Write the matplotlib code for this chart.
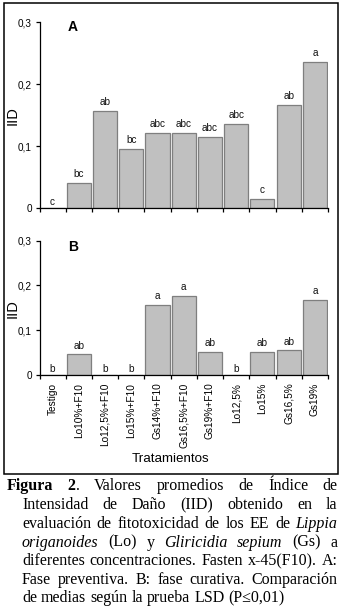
import matplotlib
matplotlib.use('Agg')
import matplotlib.pyplot as plt
from matplotlib.patches import Rectangle
import numpy as np

# ---------------- data ----------------
categories = ['Testigo', 'Lo10%+F10', 'Lo12,5%+F10', 'Lo15%+F10', 'Gs14%+F10',
              'Gs16,5%+F10', 'Gs19%+F10', 'Lo12,5%', 'Lo15%', 'Gs16,5%', 'Gs19%']
iid_A = [0.0, 0.040, 0.156, 0.095, 0.121, 0.121, 0.115, 0.135, 0.0145, 0.166, 0.235]
letters_A = ['c', 'bc', 'ab', 'bc', 'abc', 'abc', 'abc', 'abc', 'c', 'ab', 'a']
iid_B = [0.0, 0.046, 0.0, 0.0, 0.156, 0.176, 0.051, 0.0, 0.051, 0.055, 0.168]
letters_B = ['b', 'ab', 'b', 'b', 'a', 'a', 'ab', 'b', 'ab', 'ab', 'a']
yticks = [0, 0.1, 0.2, 0.3]
ytick_labels = ['0', '0,1', '0,2', '0,3']
panel_names = ['A', 'B']
ylabel = 'IID'
xlabel = 'Tratamientos'

# caption lines: each line is a list of tokens, each token a list of (text, style)
caption_lines = [
    [[('Figura', 'bold')], [('2', 'bold'), ('.', 'normal')], [('Valores', 'normal')],
     [('promedios', 'normal')], [('de', 'normal')], [('Índice', 'normal')], [('de', 'normal')]],
    [[(w, 'normal')] for w in 'Intensidad de Daño (IID) obtenido en la'.split()],
    [[(w, 'normal')] for w in 'evaluación de fitotoxicidad de los EE de'.split()] + [[('Lippia', 'italic')]],
    [[('origanoides', 'italic')], [('(Lo)', 'normal')], [('y', 'normal')],
     [('Gliricidia', 'italic')], [('sepium', 'italic')], [('(Gs)', 'normal')], [('a', 'normal')]],
    [[(w, 'normal')] for w in 'diferentes concentraciones. Fasten x-45(F10). A:'.split()],
    [[(w, 'normal')] for w in 'Fase preventiva. B: fase curativa. Comparación'.split()],
    [[(w, 'normal')] for w in 'de medias según la prueba LSD (P≤0,01)'.split()],
]

# ---------------- figure ----------------
W, H = 341, 610
plt.rcParams['font.family'] = ['Liberation Sans', 'DejaVu Sans']
fig = plt.figure(figsize=(W / 100, H / 100), dpi=100)
fig.patch.set_facecolor('white')


def rect(l, t, r, b):
    return [l / W, 1 - b / H, (r - l) / W, (b - t) / H]


axA = fig.add_axes(rect(39.5, 22, 328, 208))
axB = fig.add_axes(rect(39.5, 240.7, 328, 375))

x = np.arange(len(categories))
for ax, vals, lets, show_labels in [(axA, iid_A, letters_A, False), (axB, iid_B, letters_B, True)]:
    ax.bar(x, vals, width=0.92, color='#C0C0C0', edgecolor='#7F7F7F', linewidth=0.9, zorder=2)
    for xi, v, l in zip(x, vals, lets):
        off = 4.2 if v > 0 else 2.2
        ax.annotate(l, (xi, v), xytext=(0, off), textcoords='offset points',
                    ha='center', va='baseline', fontsize=7.2, color='#111111')
    ax.set_xlim(-0.5, len(categories) - 0.5)
    ax.set_ylim(0, 0.3)
    ax.set_yticks(yticks, ytick_labels)
    ax.tick_params(axis='y', direction='out', length=3, width=0.9, pad=2.5, labelsize=7.2)
    ax.set_xticks(x)
    ax.set_xticks(np.arange(-0.5, len(categories), 1), minor=True)
    ax.tick_params(axis='x', which='major', length=0, pad=5.5)
    ax.tick_params(axis='x', which='minor', direction='out', length=3, width=0.9)
    if show_labels:
        ax.set_xticklabels(categories, rotation=90, fontsize=7.3, va='top', ha='center')
    else:
        ax.set_xticklabels([])
    for s in ['top', 'right']:
        ax.spines[s].set_visible(False)
    for s in ['left', 'bottom']:
        ax.spines[s].set_linewidth(0.9)
    ax.patch.set_alpha(0)

# axis / panel labels
for name, cy, py in [(panel_names[0], 116, 26.7), (panel_names[1], 308.5, 246.7)]:
    fig.text(13 / W, 1 - cy / H, ylabel, rotation=90, ha='center', va='center', fontsize=10.5)
    fig.text(72.7 / W, 1 - py / H, name, ha='center', va='center', fontsize=10, fontweight='bold')
fig.text(170 / W, 1 - 459 / H, xlabel, ha='center', va='center', fontsize=9.6)

# outer frame
fig.add_artist(Rectangle((3.5 / W, 1 - 474 / H), (338.3 - 3.5) / W, (474 - 3.3) / H,
                         transform=fig.transFigure, fill=False, lw=1.1, ec='black'))

# ---------------- caption (justified, hanging indent) ----------------
renderer = fig.canvas.get_renderer()
cap_size = 11.5
serif = ['Liberation Serif', 'DejaVu Serif']
baselines = [490, 509.3, 528.3, 546.7, 565, 583.7, 602.3]
right_edge = 337.5


def make_run(txt, style):
    kw = dict(fontsize=cap_size, family=serif, va='baseline', ha='left', color='black')
    if style == 'bold':
        kw['fontweight'] = 'bold'
    elif style == 'italic':
        kw['fontstyle'] = 'italic'
    return fig.text(0, 0, txt, **kw)


for li, (line, yb) in enumerate(zip(caption_lines, baselines)):
    left = 7 if li == 0 else 22
    toks = []
    for tok in line:
        runs = []
        for txt, style in tok:
            t = make_run(txt, style)
            w = t.get_window_extent(renderer).width
            runs.append((t, w))
        toks.append(runs)
    widths = [sum(w for _, w in runs) for runs in toks]
    if li == len(caption_lines) - 1:
        t1 = make_run('a a', 'normal')
        t2 = make_run('aa', 'normal')
        gap = t1.get_window_extent(renderer).width - t2.get_window_extent(renderer).width
        t1.remove()
        t2.remove()
    else:
        gap = (right_edge - left - sum(widths)) / (len(toks) - 1)
    xpos = left
    for runs, tw in zip(toks, widths):
        xr = xpos
        for t, w in runs:
            t.set_position((xr / W, 1 - yb / H))
            xr += w
        xpos += tw + gap

fig.savefig('out.png', dpi=100, facecolor='white')
